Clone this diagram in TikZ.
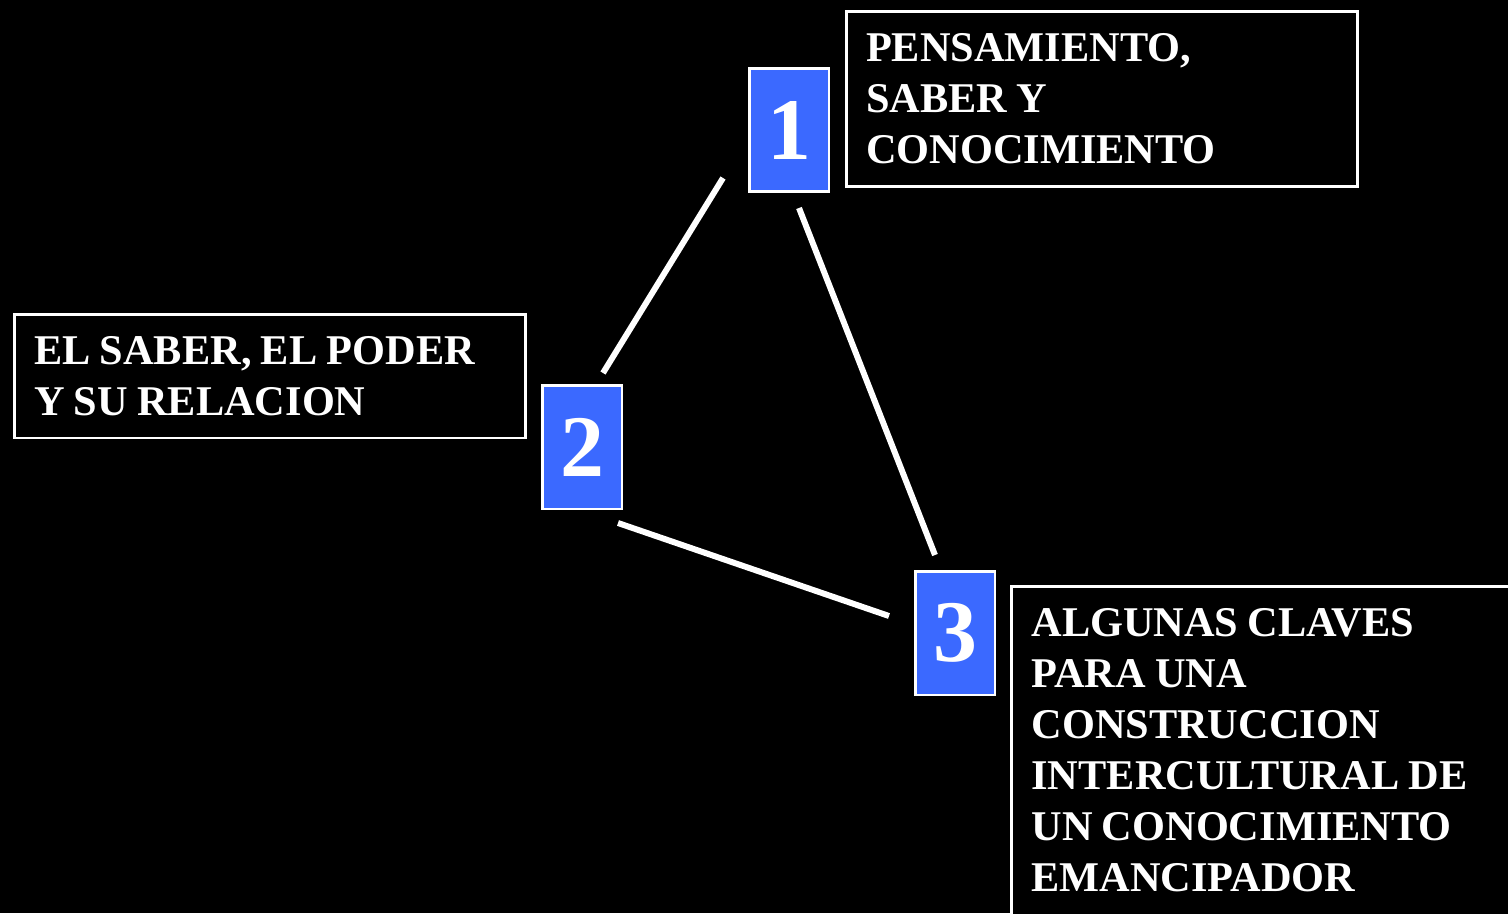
\documentclass[tikz,border=0pt]{standalone}
\usepackage{fontspec}
\setmainfont{Liberation Serif}
\definecolor{numblue}{RGB}{59,105,255}
\begin{document}
\begin{tikzpicture}[x=0.02cm,y=-0.02cm,
		num/.style={draw=white,line width=1.7pt,fill=numblue,text=white,minimum width=1.6cm,minimum height=2.48cm,inner sep=0pt,font=\fontsize{50}{50}\selectfont\bfseries},
		topic/.style={draw=white,line width=1.7pt,fill=black,text=white,align=left,inner xsep=0.4cm,font=\fontsize{24.1}{29}\selectfont\bfseries,execute at begin node={\spaceskip=0.22em\relax}},
		link/.style={white,line width=3.4pt}]
		\useasboundingbox (0,0) rectangle (1508,913);
		\fill[black] (0,0) rectangle (1508,913);
		\clip (0,0) rectangle (1508,913);
		\node [num] (n1) at (789,130) {1};
		\node [num] (n2) at (582,447) {2};
		\node [num] (n3) at (955,633) {3};
		\node [topic,text width=9.44cm,minimum width=10.24cm,minimum height=3.52cm] (t1) at (1102,99) {PENSAMIENTO,\\SABER Y\\CONOCIMIENTO};
		\node [topic,text width=9.44cm,minimum width=10.24cm,minimum height=2.48cm] (t2) at (270,376) {EL SABER, EL PODER\\Y SU RELACION};
		\node [topic,text width=9.6cm,inner ysep=0.44cm,text depth=6.3cm,anchor=north west] (t3) at (1010,585) {ALGUNAS CLAVES\\PARA UNA\\CONSTRUCCION\\INTERCULTURAL DE\\UN CONOCIMIENTO\\EMANCIPADOR};
		% ends of the links
		\coordinate (a12) at (723,178);
		\coordinate (b12) at (603,373);
		\coordinate (a13) at (799,208);
		\coordinate (b13) at (935,555);
		\coordinate (a23) at (618,523);
		\coordinate (b23) at (889,616);
		\draw [link] (a12) -- (b12);
		\draw [link] (a13) -- (b13);
		\draw [link] (a23) -- (b23);
	\end{tikzpicture}
\end{document}
